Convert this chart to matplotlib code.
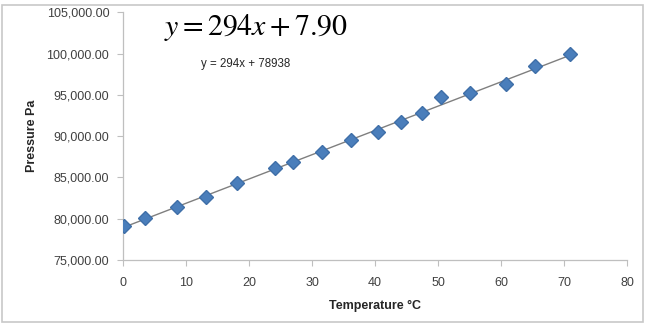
# 温度と圧力の散布図（近似直線付き）
import matplotlib as mpl
import matplotlib.pyplot as plt
import numpy as np
from matplotlib.ticker import FuncFormatter

mpl.rcParams['mathtext.fontset'] = 'stix'
plt.rcParams['font.family'] = ['Liberation Sans', 'DejaVu Sans']

# データ
temperature = [0.1, 3.4, 8.5, 13.1, 18.1, 24.1, 27.0, 31.6, 36.2, 40.5,
               44.1, 47.5, 50.4, 55.1, 60.8, 65.4, 70.9]
pressure = [79170, 80140, 81480, 82650, 84270, 86090, 86900, 88080, 89570,
            90550, 91680, 92770, 94720, 95240, 96380, 98520, 99900]
slope = 294
intercept = 78938
x_ticks = [0, 10, 20, 30, 40, 50, 60, 70, 80]
y_ticks = [75000, 80000, 85000, 90000, 95000, 100000, 105000]

fig = plt.figure(figsize=(6.45, 3.25), dpi=100)
ax = fig.add_axes([0.191, 0.2, 0.781, 0.762])

# 近似直線
fit_x = np.array([min(temperature), max(temperature)])
ax.plot(fit_x, slope * fit_x + intercept, color='#7f7f7f', lw=1.0, zorder=2)
ax.plot(temperature, pressure, ls='none', marker='D', ms=7.2,
        color='#4a7ebb', mec='#3f6fa8', zorder=3)

ax.set_xlim(0, 80)
ax.set_ylim(75000, 105000)
ax.set_xticks(x_ticks)
ax.set_yticks(y_ticks)
ax.yaxis.set_major_formatter(FuncFormatter(lambda v, p: f'{v:,.2f}'))

for s in ['top', 'right']:
    ax.spines[s].set_visible(False)
for s in ['left', 'bottom']:
    ax.spines[s].set_color('#bfbfbf')
    ax.spines[s].set_linewidth(0.9)
ax.tick_params(colors='#bfbfbf', labelcolor='#404040', labelsize=9,
               length=4, direction='out')
ax.tick_params(axis='x', pad=8)
ax.tick_params(axis='y', pad=6)

ax.set_xlabel('Temperature °C', fontsize=9, fontweight='bold',
              color='#262626', labelpad=8)
ax.set_ylabel('Pressure Pa', fontsize=9, fontweight='bold',
              color='#262626', labelpad=6)

# 数式
fig.text(0.397, 0.915, r'$y = 294x + 7.90$', fontsize=21.5, ha='center',
         va='center', color='black')
fig.text(0.381, 0.803, 'y = 294x + 78938', fontsize=8.3, ha='center',
         va='center', color='#262626')

# 外枠
fig.patches.append(mpl.patches.Rectangle((0.003, 0.01), 0.994, 0.975,
                                         transform=fig.transFigure,
                                         fill=False, ec='#c8c8c8', lw=1.2))

plt.savefig('out.png', dpi=100)
plt.close()
